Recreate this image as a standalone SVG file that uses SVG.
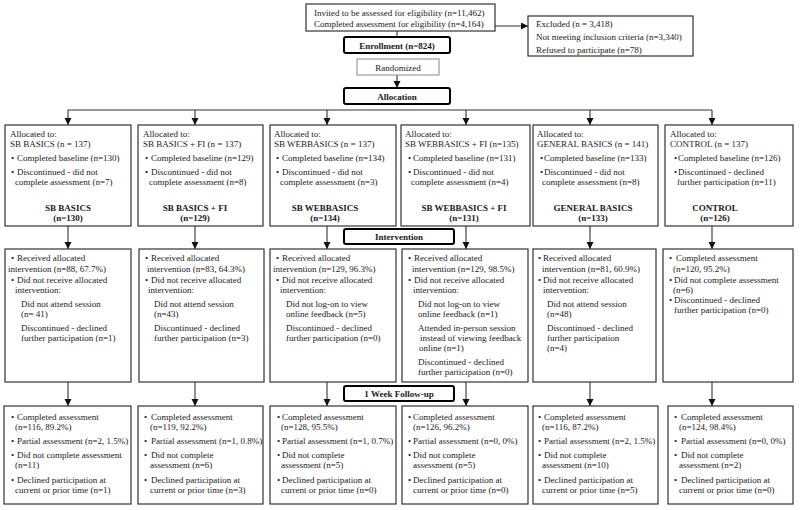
<svg xmlns="http://www.w3.org/2000/svg" width="800" height="510" viewBox="0 0 800 510">
<style>
.box{fill:#fff;stroke:#333;stroke-width:1.2}
.lbox{fill:#fff;stroke:#888;stroke-width:1}
.hdr{fill:#fff;stroke:#000;stroke-width:2}
text{font-family:"Liberation Serif","Times New Roman",serif;font-size:9px;fill:#1a1a1a}
.b{font-weight:bold;text-anchor:middle}
.c{text-anchor:middle}
.conn{stroke:#333;stroke-width:1.1;fill:none}
</style>
<defs>
<marker id="ah" markerUnits="userSpaceOnUse" markerWidth="8" markerHeight="8" refX="7" refY="3.5" orient="auto">
<path d="M0,0 L7,3.5 L0,7 z" fill="#111"/>
</marker>
</defs>
<rect width="800" height="510" fill="#fff"/>

<g id="connectors">
<line class="conn" x1="397" y1="31" x2="397" y2="37"/>
<line class="conn" x1="495" y1="26" x2="528" y2="26" marker-end="url(#ah)"/>
<line class="conn" x1="397" y1="75" x2="397" y2="88" marker-end="url(#ah)"/>
<line class="conn" x1="68" y1="110" x2="712" y2="110"/>
<line class="conn" x1="68" y1="110" x2="68" y2="125" marker-end="url(#ah)"/>
<line class="conn" x1="195" y1="110" x2="195" y2="125" marker-end="url(#ah)"/>
<line class="conn" x1="327" y1="110" x2="327" y2="125" marker-end="url(#ah)"/>
<line class="conn" x1="466" y1="110" x2="466" y2="125" marker-end="url(#ah)"/>
<line class="conn" x1="590" y1="110" x2="590" y2="125" marker-end="url(#ah)"/>
<line class="conn" x1="712" y1="110" x2="712" y2="125" marker-end="url(#ah)"/>
<line class="conn" x1="68" y1="226" x2="68" y2="249" marker-end="url(#ah)"/>
<line class="conn" x1="195" y1="226" x2="195" y2="249" marker-end="url(#ah)"/>
<line class="conn" x1="327" y1="226" x2="327" y2="249" marker-end="url(#ah)"/>
<line class="conn" x1="466" y1="226" x2="466" y2="249" marker-end="url(#ah)"/>
<line class="conn" x1="590" y1="226" x2="590" y2="249" marker-end="url(#ah)"/>
<line class="conn" x1="712" y1="226" x2="712" y2="249" marker-end="url(#ah)"/>
<line class="conn" x1="68" y1="382" x2="68" y2="406" marker-end="url(#ah)"/>
<line class="conn" x1="195" y1="382" x2="195" y2="406" marker-end="url(#ah)"/>
<line class="conn" x1="327" y1="382" x2="327" y2="406" marker-end="url(#ah)"/>
<line class="conn" x1="466" y1="382" x2="466" y2="406" marker-end="url(#ah)"/>
<line class="conn" x1="590" y1="382" x2="590" y2="406" marker-end="url(#ah)"/>
<line class="conn" x1="712" y1="382" x2="712" y2="406" marker-end="url(#ah)"/>
</g>

<g id="eligibility">
<rect class="box" x="306" y="4" width="189" height="27"/>
<text x="314" y="15.5">Invited to be assessed for eligibility (n=11,462)</text>
<text x="314" y="27">Completed assessment for eligibility (n=4,164)</text>
</g>
<g id="excluded">
<rect class="box" x="528" y="16" width="165" height="40"/>
<text x="536" y="27">Excluded (n = 3,418)</text>
<text x="536" y="39.5">Not meeting inclusion criteria (n=3,340)</text>
<text x="536" y="52.5">Refused to participate (n=78)</text>
</g>
<g id="enrollment">
<rect class="hdr" x="344" y="37" width="106" height="16" rx="2"/>
<text class="b" x="397" y="48.5">Enrollment (n=824)</text>
</g>
<g id="randomized">
<rect class="lbox" x="357" y="59" width="82" height="16"/>
<text class="c" x="398" y="70.5">Randomized</text>
</g>
<g id="allocation">
<rect class="hdr" x="344" y="88" width="106" height="16" rx="2"/>
<text class="b" x="397" y="99.5">Allocation</text>
</g>
<g id="intervention-label">
<rect class="hdr" x="344" y="229" width="110" height="15" rx="2"/>
<text class="b" x="399" y="239.5">Intervention</text>
</g>
<g id="followup-label">
<rect class="hdr" x="344" y="386" width="110" height="15" rx="2"/>
<text class="b" x="399" y="396.5">1 Week Follow-up</text>
</g>

<!-- Allocation boxes -->
<g id="alloc1">
<rect class="box" x="5" y="125" width="126" height="101"/>
<text x="10" y="137">Allocated to:</text>
<text x="10" y="147">SB BASICS (n = 137)</text>
<text x="11" y="161">•</text><text x="17" y="161">Completed baseline (n=130)</text>
<text x="11" y="175">•</text><text x="17" y="175">Discontinued - did not</text>
<text x="15" y="185">complete assessment (n=7)</text>
<text class="b" x="68" y="211">SB BASICS</text>
<text class="b" x="68" y="221">(n=130)</text>
</g>
<g id="alloc2">
<rect class="box" x="138" y="125" width="125" height="101"/>
<text x="143" y="137">Allocated to:</text>
<text x="143" y="147">SB BASICS + FI (n = 137)</text>
<text x="145" y="161">•</text><text x="151" y="161">Completed baseline (n=129)</text>
<text x="145" y="175">•</text><text x="151" y="175">Discontinued - did not</text>
<text x="149" y="185">complete assessment (n=8)</text>
<text class="b" x="195" y="211">SB BASICS + FI</text>
<text class="b" x="195" y="221">(n=129)</text>
</g>
<g id="alloc3">
<rect class="box" x="270" y="125" width="126" height="101"/>
<text x="274" y="137">Allocated to:</text>
<text x="274" y="147">SB WEBBASICS (n = 137)</text>
<text x="276" y="161">•</text><text x="282" y="161">Completed baseline (n=134)</text>
<text x="276" y="175">•</text><text x="282" y="175">Discontinued - did not</text>
<text x="280" y="185">complete assessment (n=3)</text>
<text class="b" x="325" y="211">SB WEBBASICS</text>
<text class="b" x="325" y="221">(n=134)</text>
</g>
<g id="alloc4">
<rect class="box" x="401" y="125" width="129" height="101"/>
<text x="405" y="137">Allocated to:</text>
<text x="405" y="147">SB WEBBASICS + FI (n=135)</text>
<text x="408" y="161">•</text><text x="413" y="161">Completed baseline (n=131)</text>
<text x="408" y="175">•</text><text x="413" y="175">Discontinued - did not</text>
<text x="411" y="185">complete assessment (n=4)</text>
<text class="b" x="464" y="211">SB WEBBASICS + FI</text>
<text class="b" x="464" y="221">(n=131)</text>
</g>
<g id="alloc5">
<rect class="box" x="533" y="125" width="125" height="101"/>
<text x="537" y="137">Allocated to:</text>
<text x="537" y="147">GENERAL BASICS (n = 141)</text>
<text x="540" y="161">•</text><text x="544" y="161">Completed baseline (n=133)</text>
<text x="540" y="175">•</text><text x="544" y="175">Discontinued - did not</text>
<text x="542" y="185">complete assessment (n=8)</text>
<text class="b" x="593" y="211">GENERAL BASICS</text>
<text class="b" x="593" y="221">(n=133)</text>
</g>
<g id="alloc6">
<rect class="box" x="665" y="125" width="128" height="101"/>
<text x="670" y="137">Allocated to:</text>
<text x="670" y="147">CONTROL (n = 137)</text>
<text x="674" y="161">•</text><text x="678" y="161">Completed baseline (n=126)</text>
<text x="674" y="175">•</text><text x="678" y="175">Discontinued - declined</text>
<text x="677" y="185">further participation (n=11)</text>
<text class="b" x="715" y="211">CONTROL</text>
<text class="b" x="715" y="221">(n=126)</text>
</g>

<!-- Intervention boxes -->
<g id="int1">
<rect class="box" x="5" y="249" width="126" height="133"/>
<text x="11" y="261">•</text><text x="17" y="261">Received allocated</text>
<text x="8" y="272">intervention (n=88, 67.7%)</text>
<text x="11" y="283">•</text><text x="17" y="283">Did not receive allocated</text>
<text x="15" y="293">intervention:</text>
<text x="21" y="307">Did not attend session</text>
<text x="21" y="317">(n= 41)</text>
<text x="21" y="331">Discontinued - declined</text>
<text x="21" y="341">further participation (n=1)</text>
</g>
<g id="int2">
<rect class="box" x="139" y="249" width="125" height="133"/>
<text x="145" y="261">•</text><text x="151" y="261">Received allocated</text>
<text x="147" y="272">intervention (n=83, 64.3%)</text>
<text x="145" y="283">•</text><text x="151" y="283">Did not receive allocated</text>
<text x="148" y="293">intervention:</text>
<text x="154" y="307">Did not attend session</text>
<text x="154" y="317">(n=43)</text>
<text x="154" y="331">Discontinued - declined</text>
<text x="154" y="341">further participation (n=3)</text>
</g>
<g id="int3">
<rect class="box" x="270" y="249" width="126" height="133"/>
<text x="276" y="261">•</text><text x="282" y="261">Received allocated</text>
<text x="273" y="272">intervention (n=129, 96.3%)</text>
<text x="276" y="283">•</text><text x="282" y="283">Did not receive allocated</text>
<text x="280" y="293">intervention:</text>
<text x="286" y="307">Did not log-on to view</text>
<text x="286" y="317">online feedback (n=5)</text>
<text x="286" y="331">Discontinued - declined</text>
<text x="286" y="341">further participation (n=0)</text>
</g>
<g id="int4">
<rect class="box" x="402" y="249" width="126" height="133"/>
<text x="408" y="261">•</text><text x="414" y="261">Received allocated</text>
<text x="412" y="272">intervention (n=129, 98.5%)</text>
<text x="408" y="283">•</text><text x="414" y="283">Did not receive allocated</text>
<text x="413" y="293">intervention:</text>
<text x="418" y="307">Did not log-on to view</text>
<text x="418" y="317">online feedback (n=1)</text>
<text x="418" y="331">Attended in-person session</text>
<text x="420" y="341">instead of viewing feedback</text>
<text x="419" y="351">online (n=1)</text>
<text x="418" y="365">Discontinued - declined</text>
<text x="418" y="375">further participation (n=0)</text>
</g>
<g id="int5">
<rect class="box" x="533" y="249" width="123" height="133"/>
<text x="538" y="261">•</text><text x="543" y="261">Received allocated</text>
<text x="542" y="272">intervention (n=81, 60.9%)</text>
<text x="538" y="283">•</text><text x="543" y="283">Did not receive allocated</text>
<text x="543" y="293">intervention:</text>
<text x="547" y="307">Did not attend session</text>
<text x="547" y="317">(n=48)</text>
<text x="547" y="331">Discontinued - declined</text>
<text x="547" y="341">further participation</text>
<text x="547" y="351">(n=4)</text>
</g>
<g id="int6">
<rect class="box" x="663" y="249" width="130" height="133"/>
<text x="669" y="261">•</text><text x="676" y="261">Completed assessment</text>
<text x="673" y="272">(n=120, 95.2%)</text>
<text x="669" y="283">•</text><text x="674" y="283">Did not complete assessment</text>
<text x="673" y="293">(n=6)</text>
<text x="669" y="303">•</text><text x="674" y="303">Discontinued - declined</text>
<text x="674" y="313">further participation (n=0)</text>
</g>

<!-- Follow-up boxes -->
<g id="fu1">
<rect class="box" x="4" y="406" width="127" height="98"/>
<text x="11" y="420">•</text><text x="17" y="420">Completed assessment</text>
<text x="15" y="430">(n=116, 89.2%)</text>
<text x="11" y="444">•</text><text x="17" y="444">Partial assessment (n=2, 1.5%)</text>
<text x="11" y="458">•</text><text x="17" y="458">Did not complete assessment</text>
<text x="15" y="468">(n=11)</text>
<text x="11" y="483">•</text><text x="17" y="483">Declined participation at</text>
<text x="15" y="493">current or prior time (n=1)</text>
</g>
<g id="fu2">
<rect class="box" x="138" y="406" width="125" height="98"/>
<text x="144" y="420">•</text><text x="151" y="420">Completed assessment</text>
<text x="150" y="430">(n=119, 92.2%)</text>
<text x="144" y="444">•</text><text x="151" y="444">Partial assessment (n=1, 0.8%)</text>
<text x="144" y="458">•</text><text x="151" y="458">Did not complete</text>
<text x="150" y="468">assessment (n=6)</text>
<text x="144" y="483">•</text><text x="151" y="483">Declined participation at</text>
<text x="150" y="493">current or prior time (n=3)</text>
</g>
<g id="fu3">
<rect class="box" x="270" y="406" width="126" height="98"/>
<text x="277" y="420">•</text><text x="282" y="420">Completed assessment</text>
<text x="281" y="430">(n=128, 95.5%)</text>
<text x="277" y="444">•</text><text x="282" y="444">Partial assessment (n=1, 0.7%)</text>
<text x="277" y="458">•</text><text x="282" y="458">Did not complete</text>
<text x="281" y="468">assessment (n=5)</text>
<text x="277" y="483">•</text><text x="282" y="483">Declined participation at</text>
<text x="281" y="493">current or prior time (n=0)</text>
</g>
<g id="fu4">
<rect class="box" x="402" y="406" width="126" height="98"/>
<text x="408" y="420">•</text><text x="413" y="420">Completed assessment</text>
<text x="413" y="430">(n=126, 96.2%)</text>
<text x="408" y="444">•</text><text x="413" y="444">Partial assessment (n=0, 0%)</text>
<text x="408" y="458">•</text><text x="413" y="458">Did not complete</text>
<text x="413" y="468">assessment (n=5)</text>
<text x="408" y="483">•</text><text x="413" y="483">Declined participation at</text>
<text x="413" y="493">current or prior time (n=0)</text>
</g>
<g id="fu5">
<rect class="box" x="533" y="406" width="125" height="98"/>
<text x="538" y="420">•</text><text x="544" y="420">Completed assessment</text>
<text x="542" y="430">(n=116, 87.2%)</text>
<text x="538" y="444">•</text><text x="544" y="444">Partial assessment (n=2, 1.5%)</text>
<text x="538" y="458">•</text><text x="544" y="458">Did not complete</text>
<text x="542" y="468">assessment (n=10)</text>
<text x="538" y="483">•</text><text x="544" y="483">Declined participation at</text>
<text x="542" y="493">current or prior time (n=5)</text>
</g>
<g id="fu6">
<rect class="box" x="668" y="406" width="125" height="98"/>
<text x="674" y="420">•</text><text x="681" y="420">Completed assessment</text>
<text x="679" y="430">(n=124, 98.4%)</text>
<text x="674" y="444">•</text><text x="681" y="444">Partial assessment (n=0, 0%)</text>
<text x="674" y="458">•</text><text x="681" y="458">Did not complete</text>
<text x="679" y="468">assessment (n=2)</text>
<text x="674" y="483">•</text><text x="681" y="483">Declined participation at</text>
<text x="679" y="493">current or prior time (n=0)</text>
</g>
</svg>
